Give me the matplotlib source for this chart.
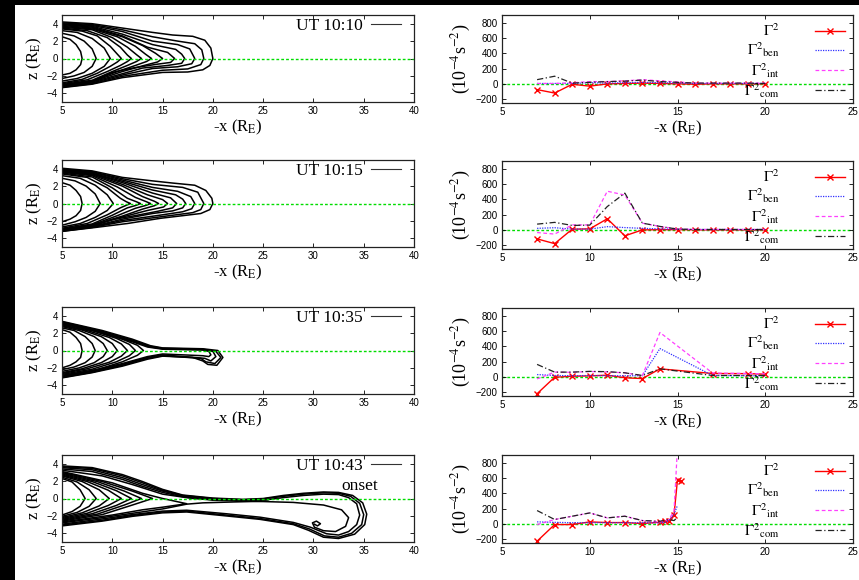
import matplotlib
matplotlib.use('Agg')
import matplotlib.pyplot as plt
from matplotlib.lines import Line2D
from matplotlib.patches import Rectangle

plt.rcParams['font.family'] = ['Liberation Serif', 'DejaVu Serif']
plt.rcParams['mathtext.fontset'] = 'stix'

# ---- panel labels ----
times = ['UT 10:10', 'UT 10:15', 'UT 10:35', 'UT 10:43']

# ---- field lines (x, z) ----
fl_1010 = [
    [(5, 2.5), (5.8, 2.2), (6.4, 1.6), (6.85, 0.8), (7.0, 0), (6.85, -0.7), (6.4, -1.3), (5.8, -1.7), (5, -1.9)],
    [(5, 2.9), (6.2, 2.6), (7.2, 2.0), (8.0, 1.1), (8.4, 0), (8.0, -0.9), (7.2, -1.6), (6.2, -2.0), (5, -2.3)],
    [(5, 3.2), (6.5, 3.0), (8, 2.3), (9.2, 1.2), (9.8, 0), (9.2, -0.9), (8, -1.7), (6.5, -2.3), (5, -2.6)],
    [(5, 3.4), (7, 3.15), (8.5, 2.6), (9.8, 1.4), (10.5, 0.5), (10.9, 0), (10.5, -0.4), (9.8, -0.9),
     (8.5, -1.7), (7, -2.4), (5, -2.8)],
    [(5, 3.5), (7.5, 3.2), (9.5, 2.4), (10.8, 1.3), (11.5, 0.4), (11.9, 0), (11.5, -0.35), (10.8, -0.8),
     (9.5, -1.5), (7.5, -2.45), (5, -2.9)],
    [(5, 3.6), (8, 3.3), (10, 2.4), (11.5, 1.3), (12.4, 0.45), (12.9, 0), (12.4, -0.35), (11.5, -0.8),
     (10, -1.5), (8, -2.5), (5, -3.0)],
    [(5, 3.7), (8, 3.4), (10.5, 2.5), (12.3, 1.4), (13.3, 0.5), (13.9, 0), (13.4, -0.35), (12.3, -0.8),
     (10.5, -1.5), (8, -2.6), (5, -3.05)],
    [(5, 3.8), (8, 3.5), (11, 2.5), (13, 1.5), (14.3, 0.6), (15.0, 0), (14.5, -0.4), (13, -0.85),
     (11, -1.5), (8, -2.65), (5, -3.1)],
    [(5, 3.9), (8, 3.6), (11, 2.6), (13.5, 1.3), (15.5, 0.7), (16.2, 0), (15.8, -0.45), (14.5, -0.65),
     (12, -1.1), (10, -1.6), (8, -2.6), (5, -3.15)],
    [(5, 3.95), (8, 3.7), (11, 2.8), (14, 1.6), (16.3, 1.05), (16.9, 0.5), (17.2, 0), (16.9, -0.55),
     (15.5, -0.8), (13, -1.1), (11, -1.75), (8, -2.7), (5, -3.2)],
    [(5, 4.0), (8, 3.8), (11, 3.1), (14, 2.0), (16.5, 1.6), (17.7, 1.1), (18.2, 0), (17.9, -0.6),
     (16.5, -0.95), (14, -1.15), (11, -1.9), (8, -2.8), (5, -3.25)],
    [(5, 4.1), (8, 3.9), (11, 3.3), (14, 2.5), (16.5, 2.0), (18.2, 1.7), (18.9, 1.0), (19.1, 0),
     (18.8, -0.7), (17.5, -1.2), (15, -1.35), (11, -2.05), (8, -2.9), (5, -3.3)],
    [(5, 4.2), (8, 4.0), (11, 3.5), (14, 3.0), (16, 2.7), (18, 2.55), (19.2, 2.1), (19.8, 1.2), (20.0, 0),
     (19.7, -0.8), (19, -1.3), (17.5, -1.55), (15, -1.6), (11, -2.2), (8, -2.95), (5, -3.35)],
]

fl_1015 = [
    [(5, 2.4), (5.8, 2.1), (6.4, 1.5), (6.85, 0.8), (7.0, 0), (6.85, -0.8), (6.4, -1.4), (5.8, -1.8), (5, -2.1)],
    [(5, 2.9), (6.3, 2.6), (7.4, 2.0), (8.3, 1.1), (8.8, 0), (8.3, -0.9), (7.4, -1.6), (6.3, -2.1), (5, -2.5)],
    [(5, 3.2), (6.8, 2.9), (8.3, 2.1), (9.5, 1.0), (10.1, 0), (9.5, -0.8), (8.3, -1.6), (6.8, -2.3), (5, -2.7)],
    [(5, 3.4), (7.5, 3.0), (9.5, 1.8), (10.8, 0.6), (11.4, 0.2), (11.8, 0), (11.4, -0.2), (10.8, -0.5),
     (9.5, -1.3), (7.5, -2.3), (5, -2.85)],
    [(5, 3.5), (8, 3.05), (10, 1.8), (11.5, 0.6), (12.4, 0.2), (12.8, 0), (12.4, -0.2), (11.5, -0.5),
     (10, -1.35), (8, -2.35), (5, -2.95)],
    [(5, 3.6), (8, 3.2), (10.5, 1.9), (12.3, 0.7), (13.4, 0.2), (13.8, 0), (13.4, -0.2), (12.3, -0.55),
     (10.5, -1.4), (8, -2.45), (5, -3.0)],
    [(5, 3.65), (8, 3.3), (11, 2.0), (13, 0.8), (14.2, 0.25), (14.6, 0), (14.2, -0.25), (13, -0.65),
     (11, -1.45), (8, -2.5), (5, -3.05)],
    [(5, 3.7), (8, 3.4), (11, 2.2), (13.5, 1.0), (15, 0.45), (15.5, 0), (15.1, -0.4), (13.5, -0.8),
     (11, -1.55), (8, -2.55), (5, -3.1)],
    [(5, 3.8), (8, 3.45), (11, 2.4), (14, 1.2), (15.8, 0.65), (16.4, 0), (16.0, -0.5), (14.5, -0.9),
     (12, -1.45), (10, -1.85), (8, -2.6), (5, -3.1)],
    [(5, 3.85), (8, 3.5), (11, 2.55), (14, 1.55), (16.3, 1.0), (17.0, 0.5), (17.3, 0), (17.0, -0.5),
     (16, -0.85), (14, -1.15), (11, -1.8), (8, -2.65), (5, -3.15)],
    [(5, 3.9), (8, 3.6), (11, 2.7), (14, 1.85), (16.5, 1.4), (17.8, 0.8), (18.2, 0), (17.9, -0.6),
     (17, -0.95), (15, -1.3), (11, -1.95), (8, -2.7), (5, -3.15)],
    [(5, 3.95), (8, 3.65), (11, 2.85), (14, 2.2), (17, 1.85), (18.5, 1.3), (19.1, 0), (18.8, -0.7),
     (18, -1.05), (15, -1.5), (11, -2.1), (8, -2.75), (5, -3.2)],
    [(5, 4.05), (8, 3.75), (11, 3.0), (14, 2.6), (16, 2.35), (18.2, 2.1), (19.3, 1.5), (19.9, 0.6), (20, 0),
     (19.7, -0.7), (18.8, -1.15), (17, -1.4), (14.8, -1.7), (11.5, -2.3), (8, -2.8), (5, -3.2)],
]

fl_1035 = [
    [(5, 2.4), (5.8, 2.1), (6.4, 1.5), (6.85, 0.8), (7.0, 0), (6.85, -0.8), (6.4, -1.3), (5.8, -1.7), (5, -2.0)],
    [(5, 2.6), (6.2, 2.3), (7.3, 1.6), (8.0, 0.8), (8.3, 0), (8.0, -0.75), (7.3, -1.4), (6.2, -1.9), (5, -2.2)],
    [(5, 2.75), (6.7, 2.3), (8.2, 1.6), (9.1, 0.8), (9.5, 0), (9.1, -0.7), (8.2, -1.4), (6.7, -2.0), (5, -2.4)],
    [(5, 2.85), (7, 2.35), (8.9, 1.6), (10.0, 0.8), (10.5, 0), (10.0, -0.7), (8.9, -1.4), (7, -2.1), (5, -2.55)],
    [(5, 2.95), (7.5, 2.3), (9.7, 1.5), (10.9, 0.75), (11.5, 0), (10.9, -0.65), (9.7, -1.35), (7.5, -2.1),
     (5, -2.65)],
    [(5, 3.05), (8, 2.3), (10.4, 1.4), (11.7, 0.7), (12.3, 0), (11.7, -0.6), (10.4, -1.3), (8, -2.15),
     (5, -2.75)],
    [(5, 3.1), (8.5, 2.25), (11, 1.3), (12.5, 0.6), (13.1, 0), (12.5, -0.55), (11, -1.3), (8.5, -2.2),
     (5, -2.85)],
    [(5, 3.15), (9, 2.0), (12, 1.0), (13.5, 0.4), (15, 0.15), (19, 0.05), (19.6, -0.1), (19.8, -0.5),
     (19.6, -0.7), (19, -0.6), (15, -0.4), (13.5, -0.7), (11, -1.5), (8, -2.3), (5, -2.95)],
    [(5, 3.2), (9, 2.1), (12, 1.1), (13.6, 0.45), (15, 0.2), (19, 0.1), (20.0, -0.1), (20.3, -0.7),
     (19.8, -1.2), (19.2, -0.9), (15, -0.5), (13.5, -0.8), (11, -1.6), (8, -2.4), (5, -3.0)],
    [(5, 3.3), (9, 2.2), (12, 1.2), (13.7, 0.5), (15, 0.25), (19, 0.15), (20.3, -0.1), (20.8, -0.8),
     (20.2, -1.5), (19.3, -1.3), (18.8, -0.9), (15, -0.6), (13.5, -0.9), (11, -1.7), (8, -2.5), (5, -3.1)],
    [(5, 3.35), (9, 2.3), (12, 1.3), (13.8, 0.55), (15, 0.3), (19, 0.2), (20.5, 0.0), (21.0, -0.8),
     (20.4, -1.7), (19.5, -1.6), (19.0, -1.2), (18, -0.8), (15, -0.65), (13.5, -1.0), (11, -1.8),
     (8, -2.55), (5, -3.15)],
]

fl_1043 = [
    [(5, 2.3), (6, 1.9), (6.8, 1.0), (7.3, 0), (6.8, -0.9), (6, -1.5), (5, -1.9)],
    [(5, 2.45), (6.5, 1.9), (7.7, 1.0), (8.4, 0), (7.7, -0.9), (6.5, -1.6), (5, -2.05)],
    [(5, 2.6), (7, 1.95), (8.7, 1.0), (9.7, 0), (8.7, -0.85), (7, -1.65), (5, -2.2)],
    [(5, 2.7), (7.5, 1.95), (9.6, 0.95), (10.9, 0), (9.6, -0.8), (7.5, -1.7), (5, -2.3)],
    [(5, 2.8), (8, 1.95), (10.4, 0.9), (11.9, 0), (10.4, -0.8), (8, -1.75), (5, -2.4)],
    [(5, 2.9), (8.5, 1.95), (11.2, 0.85), (12.9, 0), (11.2, -0.75), (8.5, -1.8), (5, -2.5)],
    [(5, 3.0), (9, 1.95), (12, 0.85), (14.0, 0), (12, -0.75), (9, -1.85), (5, -2.6)],
    [(5, 3.1), (10, 1.8), (13, 0.6), (15, 0.0), (17.4, -0.6), (15, -1.0), (13, -1.3), (10, -1.9), (5, -2.7)],
    [(5, 3.25), (9, 2.6), (12, 1.6), (15, 0.5), (18, 0.0), (22, -0.2), (25.5, -0.3), (22, -0.4),
     (19, -0.5), (17.4, -0.65), (15, -1.2), (12, -1.7), (9, -2.2), (5, -2.8)],
    [(5, 3.4), (8, 3.1), (11, 2.2), (13, 1.4), (15, 0.7), (17, 0.2), (20, -0.2), (25, -0.35), (28, -0.45),
     (31, -0.75), (32.8, -1.3), (33.5, -2.2), (33.2, -3.2), (32.2, -3.8), (31, -3.7), (30.1, -3.3),
     (29.9, -2.8), (30.3, -2.6), (30.7, -2.9), (30.4, -3.15), (30.1, -2.95)],
    [(5, 3.55), (8, 3.3), (11, 2.4), (13, 1.6), (15, 0.85), (17, 0.3), (20, -0.1), (23, -0.25), (25, -0.2),
     (27, 0.1), (29, 0.35), (31, 0.5), (32.5, 0.45), (33.5, 0.1), (34.3, -0.6), (34.6, -1.9), (34.3, -3.0),
     (33.5, -3.8), (32.5, -4.2), (31.3, -4.05), (29.7, -3.3), (28, -2.75), (24.7, -2.15), (21.3, -1.75),
     (17.4, -1.35), (15, -1.45), (12, -1.85), (9, -2.35), (5, -2.95)],
    [(5, 3.65), (8, 3.45), (11, 2.6), (13, 1.8), (15, 0.95), (17, 0.35), (20, 0.0), (23, -0.15), (25, -0.05),
     (27, 0.25), (29, 0.5), (31, 0.65), (32.5, 0.6), (33.7, 0.25), (34.6, -0.55), (35.0, -1.85), (34.8, -3.0),
     (33.8, -4.0), (32.5, -4.45), (31.1, -4.3), (29.6, -3.5), (28, -2.9), (24.7, -2.3), (21.3, -1.9),
     (17.4, -1.45), (15, -1.55), (12, -1.95), (9, -2.5), (5, -3.05)],
    [(5, 3.75), (8, 3.55), (11, 2.75), (13, 1.95), (15, 1.05), (17, 0.4), (20, 0.05), (23, -0.1), (25, 0.0),
     (27, 0.35), (29, 0.6), (31, 0.75), (32.5, 0.7), (33.9, 0.35), (34.9, -0.5), (35.3, -1.8), (35.1, -3.0),
     (34.1, -4.1), (32.5, -4.6), (31, -4.45), (29.5, -3.65), (28, -3.0), (24.7, -2.4), (21.3, -2.0),
     (17.4, -1.55), (15, -1.65), (12, -2.05), (9, -2.6), (5, -3.15)],
]
field_lines = [fl_1010, fl_1015, fl_1035, fl_1043]

# ---- growth rates (10^-4 s^-2) ----
x1 = [7, 8, 9, 10, 11, 12, 13, 14, 15, 16, 17, 18, 19, 20]
g2_1 = [-75, -120, -5, -30, 0, 5, 10, 5, 0, -5, 0, 0, 0, 0]
ben_1 = [5, 5, 5, 15, 10, 15, 20, 15, 10, 5, 5, 5, 5, 5]
int_1 = [5, 5, 15, 30, 30, 40, 55, 40, 25, 10, 10, 10, 10, 10]
com_1 = [55, 100, 10, 20, 30, 35, 50, 30, 20, 10, 10, 10, 10, 5]

x2 = [7, 8, 9, 10, 11, 12, 13, 14, 15, 16, 17, 18, 19, 20]
g2_2 = [-118, -180, 9, 13, 145, -78, 0, 2, 3, 0, 0, 0, 0, 0]
ben_2 = [20, 28, 10, 10, 42, 30, 20, 13, 8, 5, 5, 5, 5, 5]
int_2 = [-35, -55, 65, 65, 505, 455, 88, 45, 12, 5, 5, 5, 5, 5]
com_2 = [75, 98, 58, 62, 305, 480, 88, 45, 10, 5, 5, 5, 5, 5]

x3 = [7, 8, 9, 10, 11, 12, 13, 14, 17, 19, 20]
g2_3 = [-220, -5, 8, 13, 22, -12, -22, 105, 44, 42, 35]
ben_3 = [30, 18, 15, 18, 15, 15, 15, 370, 18, 15, 15]
int_3 = [-26, 62, 60, 70, 65, 53, 18, 580, 50, 44, 40]
com_3 = [163, 62, 62, 72, 68, 53, 18, 105, 18, 18, 18]

x4 = [7, 8, 9, 10, 11, 12, 13, 14, 14.3, 14.5, 14.8, 15.0, 15.2]
g2_4 = [-226, -9, -9, 26, 17, 17, 4, 22, 35, 43, 113, 578, 565]
x4b = [7, 8, 9, 10, 11, 12, 13, 14, 14.3, 14.5, 14.8, 15.0]
ben_4 = [26, 20, 15, 15, 15, 15, 15, 13, 20, 43, 122, 243]
int_4 = [-9, 57, 100, 143, 78, 100, 43, 26, 40, 57, 165, 1000]
com_4 = [174, 57, 100, 143, 78, 100, 43, 35, 45, 57, 43, 87]

rates = [
    (x1, x1, g2_1, ben_1, int_1, com_1),
    (x2, x2, g2_2, ben_2, int_2, com_2),
    (x3, x3, g2_3, ben_3, int_3, com_3),
    (x4, x4b, g2_4, ben_4, int_4, com_4),
]

W, H = 859, 580


def fig_rect(x0, x1, top, h):
    return [x0 / W, (H - top - h) / H, (x1 - x0) / W, h / H]


def style(ax):
    ax.tick_params(direction='in', top=True, right=True, length=3, width=0.6,
                   labelsize=7, pad=3, labelfontfamily='Liberation Sans')
    for s in ax.spines.values():
        s.set_linewidth(0.9)
        s.set_color('#222222')


fig = plt.figure(figsize=(W / 100, H / 100), dpi=100)
fig.patch.set_facecolor('black')
fig.add_artist(Rectangle((15 / W, 0), (W - 15) / W, (H - 5) / H, transform=fig.transFigure,
                         facecolor='white', edgecolor='none', zorder=-10))

left_tops = [15, 160, 307, 455]
right_tops = [15, 161, 308, 455]
xlab = r'-x (R$_\mathrm{E}$)'

for i in range(4):
    # left: field lines
    ax = fig.add_axes(fig_rect(62, 414, left_tops[i], 87))
    for line in field_lines[i]:
        xs, zs = zip(*line)
        ax.plot(xs, zs, color='black', lw=1.1, solid_joinstyle='round')
    ax.axhline(0, color='#00dd00', lw=1.0, ls=(0, (2, 1.5)))
    ax.set_xlim(5, 40)
    ax.set_ylim(-5, 5)
    ax.set_xticks(range(5, 41, 5))
    ax.set_yticks([-4, -2, 0, 2, 4])
    style(ax)
    ax.set_xlabel(xlab, fontsize=12, labelpad=1)
    ax.set_ylabel(r'z (R$_\mathrm{E}$)', fontsize=12, labelpad=2)
    h = Line2D([], [], color='#333333', lw=0.8)
    ax.legend([h], [times[i]], loc='upper right', bbox_to_anchor=(0.968, 0.985),
              frameon=False, markerfirst=False, fontsize=12.5, handlelength=1.7,
              handletextpad=0.5, borderaxespad=0, borderpad=0.1)
    if i == 3:
        ax.text(0.847, 0.64, 'onset', transform=ax.transAxes, ha='center', va='center',
                fontsize=12.5)

    # right: growth rates
    xa, xb, g2, ben, gint, com = rates[i]
    ax = fig.add_axes(fig_rect(502, 853, right_tops[i], 88))
    ax.axhline(0, color='#00dd00', lw=1.0, ls=(0, (2, 1.5)), zorder=1)
    ax.plot(xa, g2, color='red', marker='x', ms=4, mew=1, lw=1.0, label=r'$\Gamma^2$')
    ax.plot(xb, ben, color='#3030ff', ls=(0, (1, 1)), lw=0.9, label=r'$\Gamma^2{}_{\rm ben}$')
    ax.plot(xb, gint, color='#ff40ff', ls=(0, (3, 2)), lw=0.9, label=r'$\Gamma^2{}_{\rm int}$')
    ax.plot(xb, com, color='#222222', ls=(0, (5, 2, 1, 2)), lw=0.9, label=r'$\Gamma^2{}_{\rm com}$')
    ax.set_xlim(5, 25)
    ax.set_ylim(-250, 900)
    ax.set_xticks(range(5, 26, 5))
    ax.set_yticks(range(-200, 801, 200))
    style(ax)
    ax.set_xlabel(xlab, fontsize=12, labelpad=1)
    ax.set_ylabel(r'(10$^{-4}$s$^{-2}$)', fontsize=13, labelpad=2)
    ax.legend(loc='upper right', frameon=False, markerfirst=False, fontsize=11,
              handlelength=2.0, handletextpad=2.3, labelspacing=0.1, borderaxespad=0.2,
              borderpad=0.3)

fig.savefig('out.png', dpi=100, facecolor=fig.get_facecolor())
